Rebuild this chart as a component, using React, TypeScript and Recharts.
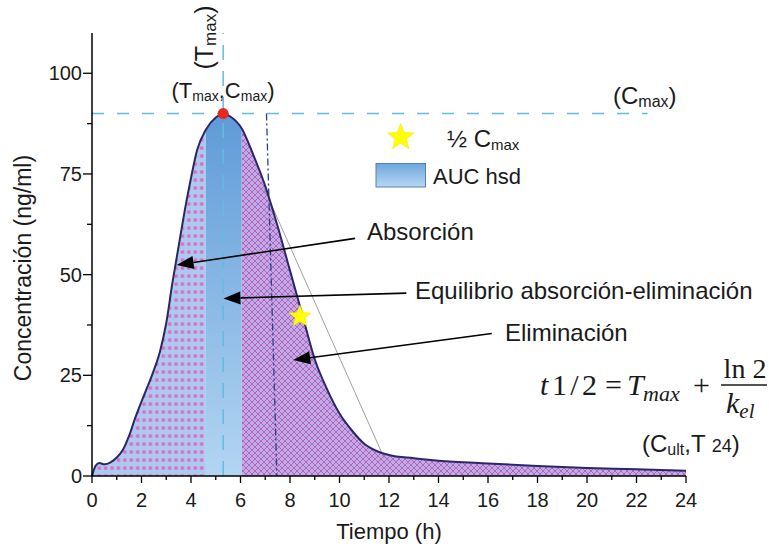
import React from 'react';
import {
	ComposedChart,
	Area,
	Line,
	XAxis,
	YAxis,
	ReferenceLine,
	ReferenceDot,
	Customized,
} from 'recharts';

// curve (h, ng/ml)
const hours = [
	0, 0.15, 0.3, 0.5, 0.75, 1, 1.25, 1.5, 1.75, 2, 2.25, 2.5, 2.75, 3, 3.25, 3.5, 3.75, 4, 4.25,
	4.6, 5, 5.3, 5.6, 6.05, 6.5, 7, 7.5, 8, 8.5, 9, 9.5, 10, 10.5, 11, 11.5, 12,
	13, 14, 16, 18, 20, 22, 24,
];
const conc = [
	0, 2.6, 3.2, 2.9, 3.4, 4.6, 6.5, 10, 14.5, 18.5, 22.3, 26.3, 31, 38, 48, 57, 66, 74, 81, 86,
	89, 90, 89.2, 86.3, 80, 72, 62, 51, 40, 29, 21.5, 15.5, 11.3, 8, 6.2, 5.2, 4.4,
	3.8, 3.1, 2.5, 2, 1.7, 1.3,
];

const ABS_END = 4.6;
const EQ_END = 6.05;
const T_MAX = 5.3;
const C_MAX = 90;
const HALF_C = { t: 8.4, c: 39.6 };

const xTicks = [0, 1, 2, 3, 4, 5, 6, 7, 8, 9, 10, 11, 12, 13, 14, 15, 16, 17, 18, 19, 20, 21, 22, 23, 24];
const yTicks = [0, 12.5, 25, 37.5, 50, 62.5, 75, 87.5, 100];

const cmaxLine = [{ x: 0, y: C_MAX }, { x: 22.45, y: C_MAX }];
const halfLifeLine = [{ x: 7.05, y: C_MAX }, { x: 7.47, y: 0 }];
const tangentLine = [{ x: 6.95, y: 71.5 }, { x: 11.8, y: 4.5 }];

const arrows = [
	{ from: { x: 10.63, y: 59 }, to: { x: 3.42, y: 52.4 } },
	{ from: { x: 12.7, y: 45.4 }, to: { x: 5.31, y: 44.1 } },
	{ from: { x: 16.15, y: 35.4 }, to: { x: 8.13, y: 28.8 } },
];

const data = hours.map((t, i) => ({
	t,
	c: conc[i],
	abs: t <= ABS_END ? conc[i] : null,
	eq: t >= ABS_END && t <= EQ_END ? conc[i] : null,
	el: t >= EQ_END ? conc[i] : null,
}));

const SANS = 'Liberation Sans, Arial, sans-serif';
const SERIF = 'Liberation Serif, Times New Roman, serif';
const INK = '#1a1a1a';

function starPoints(cx: number, cy: number, R: number, r: number) {
	const pts: string[] = [];
	for (let i = 0; i < 10; i++) {
		const rad = i % 2 === 0 ? R : r;
		const a = -Math.PI / 2 + (i * Math.PI) / 5;
		pts.push(`${cx + rad * Math.cos(a)},${cy + rad * Math.sin(a)}`);
	}
	return pts.join(' ');
}

const Star = (props: any) => (
	<polygon points={starPoints(props.cx, props.cy, 11.5, 5)} fill="#ffff00" stroke="#f2e200" strokeWidth={0.5} />
);

const Arrow = (props: any) => {
	const { x1, y1, x2, y2 } = props;
	const ang = Math.atan2(y2 - y1, x2 - x1);
	const L = 17;
	const W = 6.5;
	const bx = x2 - L * Math.cos(ang);
	const by = y2 - L * Math.sin(ang);
	const px = -Math.sin(ang) * W;
	const py = Math.cos(ang) * W;
	return (
		<g>
			<line x1={x1} y1={y1} x2={bx} y2={by} stroke="#000" strokeWidth={1.6} />
			<polygon points={`${x2},${y2} ${bx + px},${by + py} ${bx - px},${by - py}`} fill="#000" />
		</g>
	);
};

const YTick = (props: any) => {
	const { x, y, payload } = props;
	const major = payload.value % 25 === 0;
	return (
		<g>
			<line x1={x - (major ? 9 : 5)} x2={x} y1={y} y2={y} stroke="#000" strokeWidth={1.3} />
			{major && (
				<text x={x - 10} y={y} dy={7} textAnchor="end" fontSize={20} fontFamily={SANS} fill={INK}>
					{payload.value}
				</text>
			)}
		</g>
	);
};

const XTick = (props: any) => {
	const { x, y, payload } = props;
	const major = payload.value % 2 === 0;
	return (
		<g>
			<line x1={x} x2={x} y1={y} y2={y + (major ? 7 : 4)} stroke="#000" strokeWidth={1.3} />
			{major && (
				<text x={x} y={y + 31} textAnchor="middle" fontSize={20} fontFamily={SANS} fill={INK}>
					{payload.value}
				</text>
			)}
		</g>
	);
};

const Annotations = () => (
	<g fill={INK} fontFamily={SANS}>
		{/* axis titles */}
		<text x={31} y={268} transform="rotate(-90, 31, 268)" textAnchor="middle" fontSize={23}>
			Concentración (ng/ml)
		</text>
		<text x={389} y={539} textAnchor="middle" fontSize={22}>
			Tiempo (h)
		</text>

		{/* Tmax / Cmax */}
		<text x={213} y={37.5} transform="rotate(-90, 213, 37.5)" textAnchor="middle" fontSize={25}>
			(T<tspan fontSize={17} dy={3}>max</tspan>
			<tspan dy={-3}>)</tspan>
		</text>
		<text x={223} y={98} textAnchor="middle" fontSize={22}>
			(T<tspan fontSize={14} dy={3}>max</tspan>
			<tspan dy={-3}>,C</tspan>
			<tspan fontSize={14} dy={3}>max</tspan>
			<tspan dy={-3}>)</tspan>
		</text>
		<text x={613} y={104} fontSize={24}>
			(C<tspan fontSize={16} dy={3}>max</tspan>
			<tspan dy={-3}>)</tspan>
		</text>

		{/* legend */}
		<polygon points={starPoints(400.7, 137.3, 14, 6)} fill="#ffff00" stroke="#f2e200" strokeWidth={0.5} />
		<text x={447} y={147} fontSize={24}>
			½ C<tspan fontSize={15} dy={3}>max</tspan>
		</text>
		<rect x={376} y={163.5} width={49.5} height={23.5} fill="url(#legendFill)" stroke="#5a7fb5" strokeWidth={1} />
		<text x={433} y={184} fontSize={22}>
			AUC hsd
		</text>

		{/* phase labels */}
		<text x={367} y={240} fontSize={24}>
			Absorción
		</text>
		<text x={415} y={299} fontSize={24}>
			Equilibrio absorción-eliminación
		</text>
		<text x={505} y={341} fontSize={24}>
			Eliminación
		</text>

		{/* half-life formula */}
		<g fontFamily={SERIF}>
			<text x={540} y={395} fontSize={30} fontStyle="italic">
				t
			</text>
			<text x={552} y={395} fontSize={30} textLength={45}>
				1/2
			</text>
			<text x={605} y={395} fontSize={30}>
				=
			</text>
			<text x={627} y={395} fontSize={30} fontStyle="italic">
				T
			</text>
			<text x={643} y={401} fontSize={22} fontStyle="italic">
				max
			</text>
			<text x={693} y={395} fontSize={30}>
				+
			</text>
			<text x={745} y={378} fontSize={28} textAnchor="middle">
				ln 2
			</text>
			<line x1={721} x2={767} y1={385} y2={385} stroke={INK} strokeWidth={1.3} />
			<text x={726} y={413} fontSize={30} fontStyle="italic">
				k<tspan fontSize={21} dy={5}>el</tspan>
			</text>
			<text
				x={270}
				y={418}
				transform="rotate(-90, 270, 418)"
				textAnchor="middle"
				fontSize={27}
				fontStyle="italic"
				fontWeight="bold"
				textLength={60}
			>
				t 1/2
			</text>
		</g>

		<text x={642} y={452} fontSize={24}>
			(C<tspan fontSize={16} dy={3}>ult</tspan>
			<tspan dy={-3}>,T </tspan>
			<tspan fontSize={18}>24</tspan>
			<tspan>)</tspan>
		</text>
	</g>
);

export default function App() {
	return (
		<div style={{ position: 'absolute', left: 0, top: 0, background: '#fff' }}>
			<ComposedChart width={769} height={546} data={data} margin={{ top: 33, right: 83, bottom: 0, left: 0 }}>
				<defs>
					<pattern id="dots" width="6.4" height="8" patternUnits="userSpaceOnUse">
						<rect width="6.4" height="8" fill="#a9cbef" />
						<rect x="1.6" y="2.4" width="3.3" height="3.3" fill="#ea66c3" />
					</pattern>
					<pattern id="hatch" width="6" height="6" patternUnits="userSpaceOnUse">
						<rect width="6" height="6" fill="#b9aeea" />
						<path d="M0,0 L6,6 M6,0 L0,6" stroke="#c23c9e" strokeWidth="0.7" />
					</pattern>
					<linearGradient id="eqFill" x1="0" y1="0" x2="0" y2="1">
						<stop offset="0%" stopColor="#5f9bd8" />
						<stop offset="100%" stopColor="#b3d5f2" />
					</linearGradient>
					<linearGradient id="legendFill" x1="0" y1="0" x2="0" y2="1">
						<stop offset="0%" stopColor="#6fa6dd" />
						<stop offset="100%" stopColor="#b7d8f3" />
					</linearGradient>
				</defs>
				<XAxis
					dataKey="t"
					type="number"
					domain={[0, 24]}
					ticks={xTicks}
					interval={0}
					height={70}
					tickSize={0}
					tickMargin={0}
					tickLine={false}
					tick={<XTick />}
					axisLine={{ stroke: '#000', strokeWidth: 1.5 }}
				/>
				<YAxis
					type="number"
					domain={[0, 110]}
					ticks={yTicks}
					interval={0}
					width={92}
					tickSize={0}
					tickMargin={0}
					tickLine={false}
					tick={<YTick />}
					axisLine={{ stroke: '#000', strokeWidth: 1.5 }}
				/>
				<Area type="monotone" dataKey="abs" fill="url(#dots)" fillOpacity={1} stroke="none" isAnimationActive={false} />
				<Area type="monotone" dataKey="eq" fill="url(#eqFill)" fillOpacity={1} stroke="none" isAnimationActive={false} />
				<Area type="monotone" dataKey="el" fill="url(#hatch)" fillOpacity={1} stroke="none" isAnimationActive={false} />
				<ReferenceLine x={T_MAX} stroke="#5fbde0" strokeWidth={1.5} strokeDasharray="15 11" />
				<ReferenceLine segment={cmaxLine} stroke="#5fbde0" strokeWidth={1.5} strokeDasharray="12 13" />
				<ReferenceLine segment={halfLifeLine} stroke="#2b3f86" strokeWidth={1.3} strokeDasharray="7 3 2 3" />
				<ReferenceLine segment={tangentLine} stroke="#888" strokeWidth={0.8} />
				<Line type="monotone" dataKey="c" stroke="#2a2767" strokeWidth={2} dot={false} isAnimationActive={false} />
				{arrows.map((a, i) => (
					<ReferenceLine key={i} segment={[a.from, a.to]} shape={<Arrow />} />
				))}
				<ReferenceDot x={T_MAX} y={C_MAX} r={5.5} fill="#e8281e" stroke="none" />
				<ReferenceDot x={HALF_C.t} y={HALF_C.c} shape={<Star />} />
				<Customized component={Annotations} />
			</ComposedChart>
		</div>
	);
}
